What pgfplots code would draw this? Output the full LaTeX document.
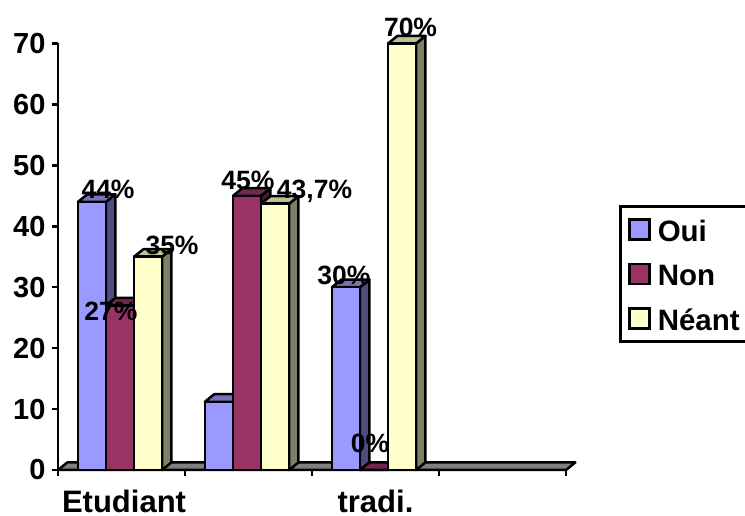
\documentclass[border=0pt]{standalone}
\usepackage{pgfplots}
\pgfplotsset{compat=1.18}
\usepackage{fontspec}
\setmainfont{Liberation Sans}

% series colours: front, top and side faces
\definecolor{OuiF}{HTML}{9999FF}\definecolor{OuiT}{HTML}{7373C0}\definecolor{OuiS}{HTML}{4D4D80}
\definecolor{NonF}{HTML}{993366}\definecolor{NonT}{HTML}{732650}\definecolor{NonS}{HTML}{4D1A33}
\definecolor{NeaF}{HTML}{FFFFCC}\definecolor{NeaT}{HTML}{BFBF99}\definecolor{NeaS}{HTML}{808066}

\newcommand{\barw}{0.2205}
\newcommand{\depx}{0.074}
\newcommand{\depy}{1.25}

% one extruded bar: left edge, value, colour prefix
\newcommand{\threedbar}[3]{%
  \pgfmathsetmacro\xa{#1}%
  \pgfmathsetmacro\xb{#1+\barw}%
  \pgfmathsetmacro\xc{#1+\barw+\depx}%
  \pgfmathsetmacro\xd{#1+\depx}%
  \pgfmathsetmacro\yb{#2+\depy}%
  \addplot[forget plot,fill=#3S,draw=black,line width=2.5pt,line join=round]
    coordinates {(\xb,0) (\xc,\depy) (\xc,\yb) (\xb,#2)} --cycle;
  \addplot[forget plot,fill=#3T,draw=black,line width=2.5pt,line join=round]
    coordinates {(\xa,#2) (\xb,#2) (\xc,\yb) (\xd,\yb)} --cycle;
  \addplot[forget plot,fill=#3F,draw=black,line width=2.5pt,line join=round]
    coordinates {(\xa,0) (\xb,0) (\xb,#2) (\xa,#2)} --cycle;
}

\begin{document}
\begin{tikzpicture}[x=1pt,y=1pt]
\path[use as bounding box] (-58,-46) rectangle (687,470);
\begin{axis}[
  at={(0,0)},anchor=south west,
  scale only axis,width=508pt,height=426.5pt,
  xmin=0,xmax=4,ymin=0,ymax=70,
  clip=false,
  axis x line=bottom,axis y line=left,
  axis line style={-,line width=2.5pt},
  tick align=outside,
  tick style={black,line width=2.5pt},
  major tick length=6pt,
  xtick={0,1,2,3,4},xticklabels={},
  extra x ticks={0.52,2.5},
  extra x tick labels={Etudiant,tradi.},
  extra x tick style={major tick length=0pt,tick style={draw=none}},
  ytick={0,10,...,70},
  /pgf/number format/assume math mode=true,
  yticklabel style={font=\fontsize{29}{31}\selectfont\bfseries,xshift=-3pt},
  xticklabel style={font=\fontsize{31}{33}\selectfont\bfseries,yshift=-17pt},
  legend style={
    at={(561pt,264.5pt)},anchor=north west,
    draw=black,line width=2.5pt,
    font=\fontsize{29.5}{31}\selectfont\bfseries,
    inner xsep=8pt,inner ysep=10.5pt,
    row sep=19.5pt,
    nodes={inner sep=0pt,text height=24pt,text depth=1pt},
    /tikz/every odd column/.append style={column sep=7pt},
  },
  legend cell align=left,
  legend image code/.code={\draw[#1] (0pt,-10pt) rectangle (20pt,10pt);},
]
% floor
\addplot[forget plot,fill=gray,draw=black,line width=2.5pt,line join=round]
  coordinates {(0,0) (4,0) (4.074,1.25) (0.074,1.25)} --cycle;

% Etudiant
\threedbar{0.157}{44}{Oui}
\threedbar{0.378}{27}{Non}
\threedbar{0.599}{35}{Nea}
% second group
\threedbar{1.157}{11.2}{Oui}
\threedbar{1.378}{45}{Non}
\threedbar{1.599}{43.7}{Nea}
% tradi.
\threedbar{2.157}{30}{Oui}
\threedbar{2.378}{0}{Non}
\threedbar{2.599}{70}{Nea}

% value labels
\addplot[forget plot,only marks,mark=none,
  point meta=explicit symbolic,
  nodes near coords,
  every node near coord/.style={anchor=center,inner sep=0pt,black,
    font=\fontsize{26.5}{28}\selectfont\bfseries}]
  coordinates {
    (0.394,46.0)[44\%]
    (0.417,26.1)[27\%]
    (0.898,36.9)[35\%]
    (1.496,47.6)[45\%]
    (2.020,45.8)[43,7\%]
    (2.252,32.0)[30\%]
    (2.457,4.3)[0\%]
    (2.776,72.6)[70\%]
  };

% legend keys
\addlegendimage{fill=OuiF,draw=black,line width=2.5pt}
\addlegendentry{Oui}
\addlegendimage{fill=NonF,draw=black,line width=2.5pt}
\addlegendentry{Non}
\addlegendimage{fill=NeaF,draw=black,line width=2.5pt}
\addlegendentry{Néant}
\end{axis}
\end{tikzpicture}
\end{document}
